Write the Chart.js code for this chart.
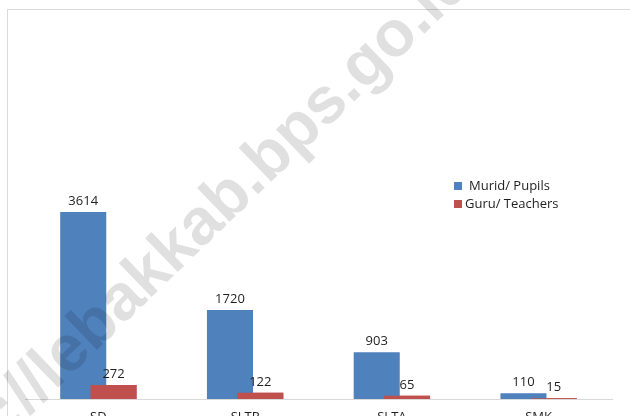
<!DOCTYPE html>
<html>
<head>
<meta charset="utf-8">
<script src="https://cdn.jsdelivr.net/npm/chart.js@4/dist/chart.umd.min.js"></script>
<style>
  html, body { margin: 0; padding: 0; background: #ffffff; overflow: hidden; }
  #wrap { position: relative; width: 630px; height: 440px; }
</style>
</head>
<body>
<div id="wrap"><canvas id="c" width="630" height="440"></canvas></div>
<script>
const categories = ['SD', 'SLTP', 'SLTA', 'SMK'];
const muridLabel = 'Murid/ Pupils';
const guruLabel = 'Guru/ Teachers';
const muridValues = [3614, 1720, 903, 110];
const guruValues = [272, 122, 65, 15];
const watermarkText = 'http://lebakkab.bps.go.id';

const BLUE = '#4F81BD';
const RED = '#C0504D';
const FONT = '"Open Sans", "Liberation Sans", sans-serif';

const framePlugin = {
  id: 'frame',
  beforeDraw(chart) {
    const ctx = chart.ctx;
    ctx.save();
    ctx.fillStyle = '#ffffff';
    ctx.fillRect(0, 0, chart.width, chart.height);
    ctx.strokeStyle = '#d9d9d9';
    ctx.lineWidth = 1;
    ctx.beginPath();
    ctx.moveTo(7.5, chart.height + 5);
    ctx.lineTo(7.5, 9.5);
    ctx.lineTo(chart.width + 5, 9.5);
    ctx.stroke();
    ctx.restore();
  }
};

const overlapPlugin = {
  id: 'overlap',
  afterDatasetsDraw(chart) {
    // draw the teachers series again so it sits over the pupils bars
    const meta = chart.getDatasetMeta(1);
    if (meta && meta.controller) meta.controller.draw();
    const ctx = chart.ctx;
    ctx.save();
    ctx.fillStyle = '#1f1f1f';
    ctx.font = '13px ' + FONT;
    ctx.textAlign = 'center';
    ctx.textBaseline = 'alphabetic';
    chart.data.datasets.forEach((ds, di) => {
      const m = chart.getDatasetMeta(di);
      m.data.forEach((el, i) => {
        ctx.fillText(String(ds.data[i]), el.x, el.y - 7);
      });
    });
    ctx.restore();
  }
};

const legendPlugin = {
  id: 'customLegend',
  afterDraw(chart) {
    const ctx = chart.ctx;
    ctx.save();
    ctx.font = '13px ' + FONT;
    ctx.textBaseline = 'middle';
    ctx.textAlign = 'left';
    const items = [
      { label: muridLabel, color: BLUE, y: 186, tx: 469 },
      { label: guruLabel, color: RED, y: 204, tx: 465 }
    ];
    items.forEach(it => {
      ctx.fillStyle = it.color;
      ctx.fillRect(454, it.y - 4, 8, 8);
      ctx.fillStyle = '#1f1f1f';
      ctx.fillText(it.label, it.tx, it.y);
    });
    ctx.restore();
  }
};

const watermarkPlugin = {
  id: 'watermark',
  afterDraw(chart) {
    const ctx = chart.ctx;
    ctx.save();
    ctx.translate(-75, 516);
    ctx.rotate(-44 * Math.PI / 180);
    ctx.font = 'bold 65px "Liberation Sans", Arial, sans-serif';
    ctx.fillStyle = 'rgba(0,0,0,0.12)';
    ctx.textAlign = 'left';
    ctx.textBaseline = 'alphabetic';
    ctx.fillText(watermarkText, 0, 0);
    ctx.restore();
  }
};

new Chart(document.getElementById('c'), {
  type: 'bar',
  data: {
    labels: categories,
    datasets: [
      {
        label: muridLabel,
        data: muridValues,
        backgroundColor: BLUE,
        borderWidth: 0,
        categoryPercentage: 0.413,
        barPercentage: 1.52
      },
      {
        label: guruLabel,
        data: guruValues,
        backgroundColor: RED,
        borderWidth: 0,
        categoryPercentage: 0.413,
        barPercentage: 1.52
      }
    ]
  },
  options: {
    responsive: false,
    animation: false,
    events: [],
    layout: { padding: { left: 25, right: 18, top: 192, bottom: 0 } },
    plugins: {
      legend: { display: false },
      tooltip: { enabled: false },
      title: { display: false }
    },
    scales: {
      x: {
        grid: { display: false, drawTicks: false },
        border: { display: true, color: '#d9d9d9', width: 1 },
        ticks: { color: '#1f1f1f', font: { size: 13, family: FONT }, padding: 10 },
        afterFit(scale) { scale.height = 41; }
      },
      y: {
        display: false,
        min: 0,
        max: 4000
      }
    }
  },
  plugins: [framePlugin, overlapPlugin, legendPlugin, watermarkPlugin]
});
</script>
</body>
</html>
